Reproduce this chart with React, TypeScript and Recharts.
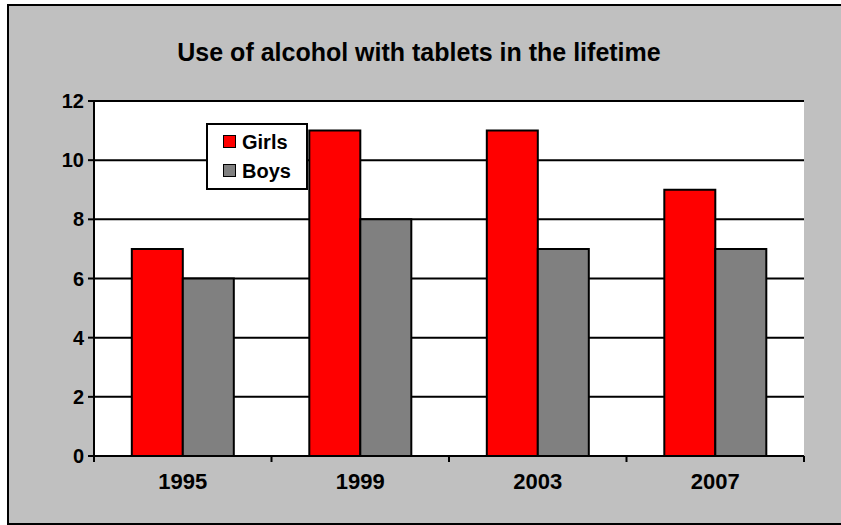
import React from "react";
import { BarChart, Bar, XAxis, YAxis, CartesianGrid, Legend } from "recharts";

const years = ["1995", "1999", "2003", "2007"];
const girls = [7, 11, 11, 9];
const boys = [6, 8, 7, 7];
const seriesNames = ["Girls", "Boys"];
const yTicks = [0, 2, 4, 6, 8, 10, 12];

const data = years.map((year, i) => ({ year, Girls: girls[i], Boys: boys[i] }));

const FONT = "Arial, 'Liberation Sans', sans-serif";
const TICK_SIZE = 6;
const TICK_MARGIN = 11;

const YearTick = (props: any) => {
	const { x, y, payload, index, visibleTicksCount } = props;
	const axisY = y - TICK_SIZE - TICK_MARGIN;
	const half = payload.offset || 0;
	return (
		<g>
			<line x1={x - half} x2={x - half} y1={axisY} y2={axisY + TICK_SIZE} stroke="#000" strokeWidth={2} />
			{index === visibleTicksCount - 1 && (
				<line x1={x + half} x2={x + half} y1={axisY} y2={axisY + TICK_SIZE} stroke="#000" strokeWidth={2} />
			)}
			<text x={x} y={y} dy="0.71em" textAnchor="middle" fontSize={22} fontWeight="bold" fontFamily={FONT} fill="#000">
				{payload.value}
			</text>
		</g>
	);
};

const LegendBox = (props: any) => {
	const items = [...(props.payload || [])].sort(
		(a: any, b: any) => seriesNames.indexOf(a.value) - seriesNames.indexOf(b.value)
	);
	return (
		<div
			style={{
				border: "2px solid #000",
				background: "#fff",
				width: 98,
				height: 61,
				boxSizing: "content-box",
				fontFamily: FONT,
				fontWeight: "bold",
				fontSize: 20,
				paddingTop: 2,
			}}
		>
			{items.map((it: any) => (
				<div key={it.value} style={{ display: "flex", alignItems: "center", height: 29, paddingLeft: 15 }}>
					<span
						style={{
							display: "inline-block",
							width: 11,
							height: 11,
							border: "1.5px solid #000",
							background: it.color,
							marginRight: 6,
						}}
					/>
					<span style={{ color: "#000", lineHeight: "20px" }}>{it.value}</span>
				</div>
			))}
		</div>
	);
};

export default function App() {
	return (
		<div style={{ position: "absolute", left: 0, top: 0, width: 841, height: 525, overflow: "hidden", background: "#fff" }}>
			<div
				style={{
					position: "absolute",
					left: 7,
					top: 4,
					width: 850,
					height: 517,
					border: "2px solid #000",
					background: "#c0c0c0",
				}}
			/>
			<div
				style={{
					position: "absolute",
					left: 0,
					top: 38,
					width: 838,
					height: 28,
					lineHeight: "28px",
					textAlign: "center",
					fontFamily: FONT,
					fontWeight: "bold",
					fontSize: 25,
					color: "#000",
				}}
			>
				Use of alcohol with tablets in the lifetime
			</div>
			<div style={{ position: "absolute", left: 0, top: 0 }}>
				<BarChart
					width={841}
					height={525}
					data={data}
					margin={{ top: 101, right: 37, bottom: 39, left: 34 }}
					barCategoryGap="21.3%"
					barGap={0}
				>
					<CartesianGrid vertical={false} stroke="#000" strokeWidth={2} fill="#fff" fillOpacity={1} />
					<XAxis
						dataKey="year"
						height={30}
						tickLine={false}
						tickSize={TICK_SIZE}
						tickMargin={TICK_MARGIN}
						axisLine={{ stroke: "#000", strokeWidth: 2 }}
						tick={<YearTick />}
						interval={0}
					/>
					<YAxis
						width={60}
						domain={[0, 12]}
						ticks={yTicks}
						interval={0}
						tickSize={6}
						tickMargin={4}
						axisLine={{ stroke: "#000", strokeWidth: 2 }}
						tickLine={{ stroke: "#000", strokeWidth: 2 }}
						tick={{ fill: "#000", fontSize: 20, fontWeight: "bold", fontFamily: FONT }}
					/>
					<YAxis
						yAxisId="right"
						orientation="right"
						width={0}
						domain={[0, 12]}
						tick={false}
						tickLine={false}
						axisLine={{ stroke: "#000", strokeWidth: 2.5 }}
					/>
					<Legend
						layout="vertical"
						verticalAlign="middle"
						align="center"
						content={<LegendBox />}
						wrapperStyle={{ left: 206, top: 123, width: 102, height: 65 }}
					/>
					<Bar dataKey="Girls" fill="#ff0000" stroke="#000" strokeWidth={2} isAnimationActive={false} />
					<Bar dataKey="Boys" fill="#808080" stroke="#000" strokeWidth={2} isAnimationActive={false} />
				</BarChart>
			</div>
		</div>
	);
}
